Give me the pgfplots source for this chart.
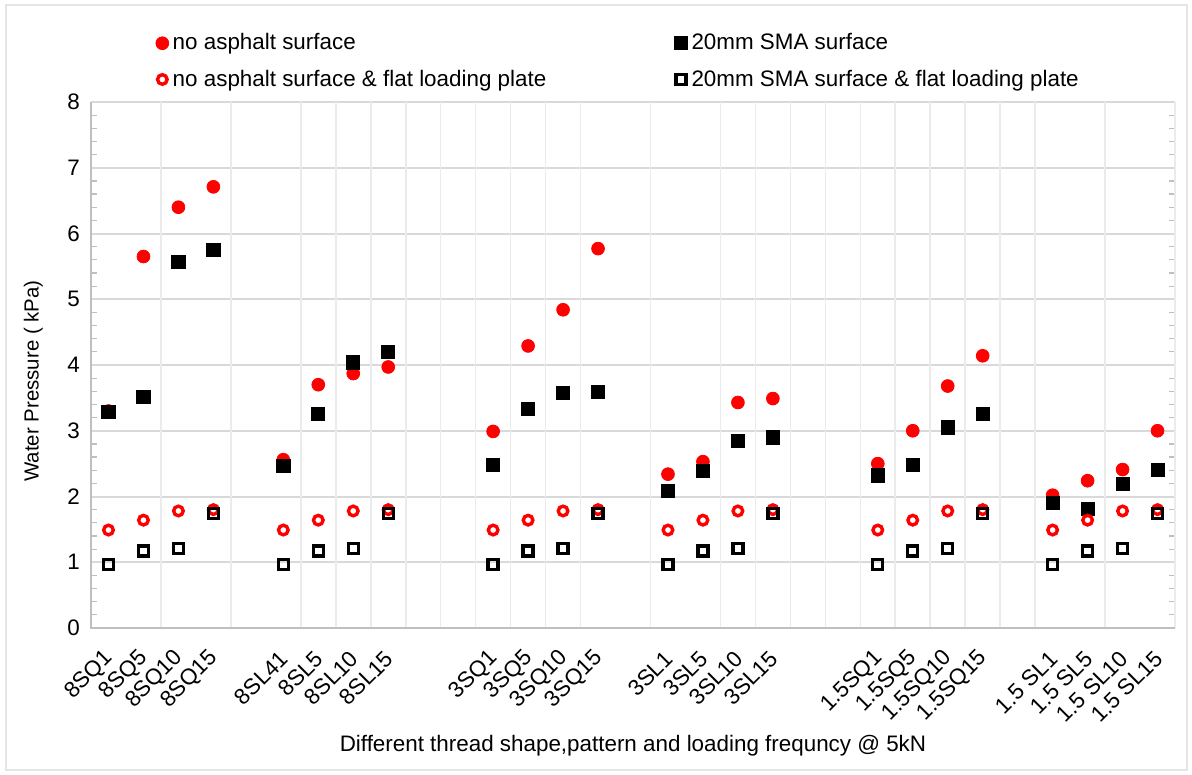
\documentclass[border=0pt]{standalone}
\usepackage{fontspec}
\setmainfont{Liberation Sans}
\usepackage{pgfplots}
\pgfplotsset{compat=1.18}
\definecolor{gridh}{HTML}{D9D9D9}
\definecolor{gridv}{HTML}{EBEBEB}
\definecolor{axgray}{HTML}{BFBFBF}
\begin{document}
\begin{tikzpicture}[x=1pt,y=1pt]
\useasboundingbox (0,0) rectangle (596,387.5);
\fill[white] (0,0) rectangle (596,387.5);
\draw[gray!20, line width=1pt] (3,2.5) rectangle (593.5,385);
\begin{axis}[
  at={(45.5pt,73.5pt)}, anchor=south west,
  scale only axis, width=542pt, height=263pt,
  xmin=-0.5, xmax=30.5, ymin=0, ymax=8,
  font=\fontsize{11.2}{13.4}\selectfont,
  /pgf/number format/assume math mode=true,
  axis line style={draw=none},
  xtick={0,1,2,3,5,6,7,8,11,12,13,14,16,17,18,19,22,23,24,25,27,28,29,30},
  xticklabels={8SQ1,8SQ5,8SQ10,8SQ15,8SL41,8SL5,8SL10,8SL15,3SQ1,3SQ5,3SQ10,3SQ15,3SL1,3SL5,3SL10,3SL15,1.5SQ1,1.5SQ5,1.5SQ10,1.5SQ15,1.5 SL1,1.5 SL5,1.5 SL10,1.5 SL15},
  x tick style={draw=none},
  xticklabel style={xshift=3pt, yshift=-11pt, rotate=45, anchor=east},
  extra x ticks={1.5,3.5,5.5,6.5,7.5,8.5,9.5,10.5,11.5,12.5,13.5,15.5,17.5,18.5,19.5,20.5,21.5,22.5,23.5,24.5,25.5,26.5,28.5,30.5},
  extra x tick labels={},
  extra x tick style={grid=major, major grid style={gridv, line width=0.8pt}, tick style={draw=none}},
  ytick={0,1,...,8},
  ymajorgrids, major grid style={gridh, line width=1pt},
  minor y tick num=4,
  y tick style={draw=none},
  minor y tick style={draw=axgray, line width=0.6pt},
  minor tick length=3pt,
  tick align=inside,
  yticklabel style={xshift=-2pt},
  ylabel={Water Pressure ( kPa)},
  ylabel style={yshift=5.5pt, xshift=-8pt, font=\fontsize{10.2}{12}\selectfont},
  xlabel={Different thread shape,pattern and loading frequncy @ 5kN},
  xlabel style={yshift=3pt},
  legend columns=2,
  legend style={at={(0.054,1.146)}, anchor=north west, draw=none, fill=none,
    font=\fontsize{11.2}{13.4}\selectfont, row sep=4.5pt,
    /tikz/every even column/.append style={column sep=62pt}},
  legend cell align=left,
  legend image code/.code={\draw[mark repeat=2,mark phase=2,#1] plot coordinates {(0pt,0pt)(3pt,0pt)(6pt,0pt)};},
  clip=false,
]
% no asphalt surface
\addplot[only marks, mark=*, mark size=3.2pt, draw=red, fill=red] coordinates {
(0,3.30) (1,5.65) (2,6.40) (3,6.71)
(5,2.56) (6,3.70) (7,3.87) (8,3.97)
(11,2.99) (12,4.29) (13,4.84) (14,5.77)
(16,2.34) (17,2.53) (18,3.43) (19,3.49)
(22,2.50) (23,3.00) (24,3.68) (25,4.14)
(27,2.02) (28,2.24) (29,2.41) (30,3.00)};
\addlegendentry{no asphalt surface}
% 20mm SMA surface
\addplot[only marks, mark=square*, mark size=3.3pt, draw=black, fill=black] coordinates {
(0,3.29) (1,3.52) (2,5.57) (3,5.75)
(5,2.47) (6,3.26) (7,4.04) (8,4.20)
(11,2.48) (12,3.33) (13,3.57) (14,3.59)
(16,2.09) (17,2.39) (18,2.84) (19,2.90)
(22,2.32) (23,2.48) (24,3.05) (25,3.26)
(27,1.90) (28,1.81) (29,2.19) (30,2.40)};
\addlegendentry{20mm SMA surface}
% no asphalt surface & flat loading plate
\addplot[only marks, mark=o, mark size=2.4pt, mark options={draw=red, fill=white, line width=1.7pt}] coordinates {
(0,1.49) (1,1.64) (2,1.78) (3,1.80)
(5,1.49) (6,1.64) (7,1.78) (8,1.80)
(11,1.49) (12,1.64) (13,1.78) (14,1.80)
(16,1.49) (17,1.64) (18,1.78) (19,1.80)
(22,1.49) (23,1.64) (24,1.78) (25,1.80)
(27,1.49) (28,1.64) (29,1.78) (30,1.80)};
\addlegendentry{no asphalt surface \& flat loading plate}
% 20mm SMA surface & flat loading plate
\addplot[only marks, mark=square, mark size=2.5pt, mark options={draw=black, fill=white, line width=1.7pt, rounded corners=0.9pt}] coordinates {
(0,0.97) (1,1.17) (2,1.21) (3,1.74)
(5,0.97) (6,1.17) (7,1.21) (8,1.74)
(11,0.97) (12,1.17) (13,1.21) (14,1.74)
(16,0.97) (17,1.17) (18,1.21) (19,1.74)
(22,0.97) (23,1.17) (24,1.21) (25,1.74)
(27,0.97) (28,1.17) (29,1.21) (30,1.74)};
\addlegendentry{20mm SMA surface \& flat loading plate}
\draw[axgray, line width=1.2pt] (rel axis cs:0,1) -- (rel axis cs:0,0) -- (rel axis cs:1,0);
\end{axis}
\end{tikzpicture}
\end{document}
